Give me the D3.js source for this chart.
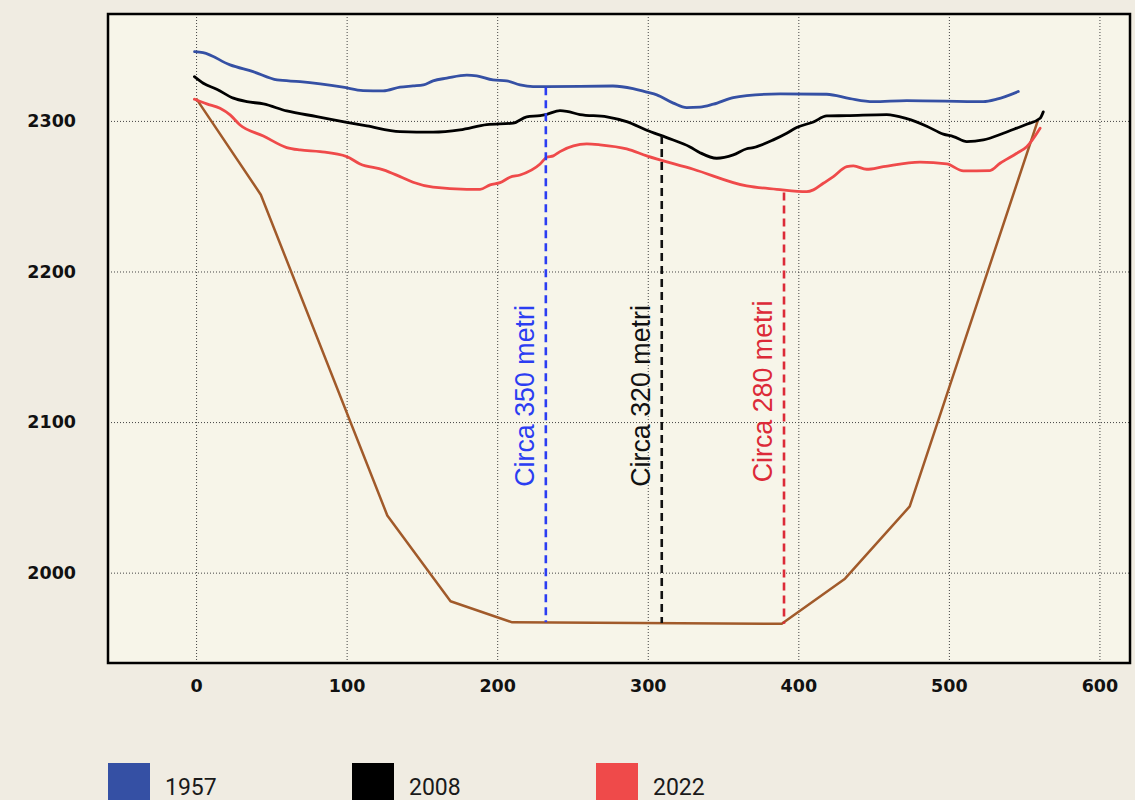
<!DOCTYPE html>
<html>
<head>
<meta charset="utf-8">
<script src="https://cdn.jsdelivr.net/npm/d3@7"></script>
<style>
  html, body { margin: 0; padding: 0; background: #f0ece2; }
  svg { display: block; }
</style>
</head>
<body>
<svg id="chart" width="1135" height="800"></svg>
<script>
// Cross-section profiles: distance along the section (m) and elevation (m a.s.l.)
const x1957 = [-1, 4.6, 22.6, 37.9, 53.8, 69.1, 97.6, 110.9, 124.2, 135.5, 144.1, 151, 157.4, 166.5, 179.8, 186.4, 197.2, 206.3, 215.2, 223.8, 232.9, 276.9, 290.2, 299.3, 306, 317, 325.9, 334.7, 343.6, 356.8, 365.7, 387.9, 418.9, 434.3, 449.8, 472, 522.9, 531.8, 546.1];
const y1957 = [2346, 2345.4, 2337.2, 2332.7, 2327.2, 2326.1, 2322.4, 2320.1, 2319.9, 2322.4, 2323.2, 2323.9, 2326.6, 2328.4, 2330.4, 2329.9, 2327.2, 2326.6, 2323.9, 2322.8, 2322.8, 2323.2, 2321.5, 2319.1, 2317.3, 2311.8, 2308.8, 2309.1, 2311.1, 2315.5, 2316.8, 2317.9, 2317.7, 2314.8, 2312.8, 2313.5, 2312.8, 2314.4, 2319.5];

const x2008 = [-1.1, 4.8, 13.7, 24.8, 33.7, 44.7, 60.2, 80.2, 100.1, 113.4, 135.5, 157.4, 175.3, 193.1, 210.5, 219.6, 228.5, 232.9, 241.7, 246.2, 255, 272.8, 286, 299.3, 312.6, 328.1, 334.7, 345.8, 356.8, 365.7, 370.1, 383.4, 392.3, 398.9, 410, 418.9, 432.2, 458.7, 472, 485.3, 496.3, 503, 511.9, 522.9, 536.2, 545.1, 551.7, 560.6, 562.7];
const y2008 = [2329.4, 2325, 2321.1, 2315.1, 2312.8, 2311.3, 2306.6, 2302.9, 2299.1, 2296.7, 2292.9, 2292.5, 2294, 2297.5, 2298.5, 2302.7, 2303.5, 2304.4, 2306.8, 2306.4, 2304.2, 2302.7, 2299.5, 2293.8, 2288.9, 2282.7, 2278.9, 2275.2, 2277.4, 2281.5, 2282.3, 2287.4, 2291.8, 2295.6, 2299.3, 2303.3, 2303.5, 2304.2, 2301.5, 2296.5, 2291.2, 2289.6, 2286.3, 2287.4, 2291.8, 2295.2, 2297.8, 2301.8, 2306];

const x2022 = [-1.1, 7.1, 15.9, 22.6, 29.2, 44.7, 60.2, 69.1, 82.4, 100.1, 108.9, 124.4, 135.5, 144.1, 157.4, 179.8, 188.6, 195.3, 201.9, 208.5, 215.2, 228.5, 232.9, 237.3, 241.7, 259.5, 268.3, 286, 299.3, 330.3, 365.7, 385.7, 405.6, 410, 416.6, 423.3, 432.2, 436.6, 445.4, 456.5, 480.8, 498.6, 509.6, 527.3, 534, 545.1, 551.7, 560.6];
const y2022 = [2314.4, 2311.3, 2308.4, 2304, 2297.3, 2290, 2282.3, 2280.7, 2279.6, 2276.3, 2271.4, 2267.5, 2263, 2259.3, 2256, 2254.6, 2254.6, 2257.5, 2259, 2262.6, 2264.1, 2271.4, 2275.9, 2276.8, 2279.6, 2284.7, 2284.1, 2281.4, 2276.8, 2267.9, 2256.8, 2254.6, 2253, 2254.2, 2258.6, 2263, 2269.6, 2270.1, 2267.9, 2269.6, 2272.6, 2271.4, 2266.8, 2267, 2271.9, 2278.5, 2282.9, 2295.2];

// Bedrock profile
const xBed = [0, 43, 127, 169, 210, 389, 431, 474, 559];
const yBed = [2315, 2251, 2038, 1981, 1967, 1966, 1996, 2044, 2300];

// Width markers: position, top and bottom elevation, label and label anchor
const markerX = [232.3, 309.3, 390.5];
const markerTop = [2322.4, 2290, 2252.4];
const markerBottom = [1967, 1966.5, 1966];
const markerLabels = ["Circa 350 metri", "Circa 320 metri", "Circa 280 metri"];
const markerLabelY = [2057, 2057, 2060];
const markerColors = ["#2b3df2", "#111111", "#dc2a38"];

// Axis ticks
const xTicks = [0, 100, 200, 300, 400, 500, 600];
const yTicks = [2000, 2100, 2200, 2300];

// Legend
const legendYears = ["1957", "2008", "2022"];
const seriesColors = ["#3550a4", "#000000", "#ef4a4a"];
const bedColor = "#a15a2a";

const svg = d3.select("#chart");
const plot = { left: 108, top: 14, right: 1130, bottom: 663 };

const x = d3.scaleLinear().domain([-58.5, 620.3]).range([plot.left, plot.right]);
const y = d3.scaleLinear().domain([1940, 2371]).range([plot.bottom, plot.top]);

// Plot background
svg.append("rect")
  .attr("x", plot.left).attr("y", plot.top)
  .attr("width", plot.right - plot.left).attr("height", plot.bottom - plot.top)
  .attr("fill", "#f7f5e9");

// Dotted grid
const grid = svg.append("g").attr("class", "grid");
grid.append("g")
  .attr("transform", `translate(0,${plot.bottom})`)
  .call(d3.axisBottom(x).tickValues(xTicks).tickSize(-(plot.bottom - plot.top)).tickFormat(""))
  .call(g => g.select(".domain").remove())
  .call(g => g.selectAll("line").attr("stroke", "#444").attr("stroke-width", 1).attr("stroke-dasharray", "1,2"));
grid.append("g")
  .attr("transform", `translate(${plot.left},0)`)
  .call(d3.axisLeft(y).tickValues(yTicks).tickSize(-(plot.right - plot.left)).tickFormat(""))
  .call(g => g.select(".domain").remove())
  .call(g => g.selectAll("line").attr("stroke", "#444").attr("stroke-width", 1).attr("stroke-dasharray", "1,2"));

// Tick labels
const tickFont = "'DejaVu Sans', sans-serif";
svg.append("g")
  .attr("transform", `translate(0,${plot.bottom})`)
  .call(d3.axisBottom(x).tickValues(xTicks).tickSize(0).tickPadding(17).tickFormat(d3.format("d")))
  .call(g => g.select(".domain").remove())
  .call(g => g.selectAll("text")
    .attr("font-family", tickFont).attr("font-weight", "bold")
    .attr("font-size", 17.5).attr("fill", "#111"));
svg.append("g")
  .attr("transform", `translate(76,0)`)
  .call(d3.axisLeft(y).tickValues(yTicks).tickSize(0).tickPadding(0).tickFormat(d3.format("d")))
  .call(g => g.select(".domain").remove())
  .call(g => g.selectAll("text")
    .attr("font-family", tickFont).attr("font-weight", "bold")
    .attr("font-size", 17.5).attr("fill", "#111"));

// Profiles
const line = d3.line().x(d => x(d[0])).y(d => y(d[1])).curve(d3.curveLinear);
const series = [
  { xs: x1957, ys: y1957, color: seriesColors[0] },
  { xs: x2008, ys: y2008, color: seriesColors[1] },
  { xs: x2022, ys: y2022, color: seriesColors[2] }
];

svg.append("path")
  .datum(d3.zip(xBed, yBed))
  .attr("d", line)
  .attr("fill", "none")
  .attr("stroke", bedColor)
  .attr("stroke-width", 2.5)
  .attr("stroke-linejoin", "round");

const smooth = d3.line().x(d => x(d[0])).y(d => y(d[1])).curve(d3.curveMonotoneX);
svg.append("g").selectAll("path")
  .data(series)
  .join("path")
  .attr("d", s => smooth(d3.zip(s.xs, s.ys)))
  .attr("fill", "none")
  .attr("stroke", s => s.color)
  .attr("stroke-width", 2.8)
  .attr("stroke-linejoin", "round")
  .attr("stroke-linecap", "round");

// Width markers
const markers = markerX.map((v, i) => ({
  x: v, top: markerTop[i], bottom: markerBottom[i],
  label: markerLabels[i], labelY: markerLabelY[i], color: markerColors[i]
}));
const mg = svg.append("g");
mg.selectAll("line")
  .data(markers)
  .join("line")
  .attr("x1", d => x(d.x)).attr("x2", d => x(d.x))
  .attr("y1", d => y(d.top)).attr("y2", d => y(d.bottom))
  .attr("stroke", d => d.color)
  .attr("stroke-width", 2.6)
  .attr("stroke-dasharray", "8,5");
mg.selectAll("text")
  .data(markers)
  .join("text")
  .attr("transform", d => `translate(${x(d.x) - 12},${y(d.labelY)}) rotate(-90)`)
  .attr("font-family", "'Liberation Sans', Arial, sans-serif")
  .attr("font-size", 26.8)
  .attr("fill", d => d.color)
  .text(d => d.label);

// Frame
svg.append("rect")
  .attr("x", plot.left).attr("y", plot.top)
  .attr("width", plot.right - plot.left).attr("height", plot.bottom - plot.top)
  .attr("fill", "none")
  .attr("stroke", "#000")
  .attr("stroke-width", 2.5);

// Legend
const legend = svg.append("g").selectAll("g")
  .data(legendYears)
  .join("g")
  .attr("transform", (d, i) => `translate(${108 + i * 244},763)`);
legend.append("rect")
  .attr("width", 42).attr("height", 40)
  .attr("fill", (d, i) => seriesColors[i]);
legend.append("text")
  .attr("x", 57).attr("y", 32)
  .attr("font-family", "Roboto, sans-serif")
  .attr("font-size", 23)
  .attr("fill", "#1a1a1a")
  .text(d => d);
</script>
</body>
</html>
